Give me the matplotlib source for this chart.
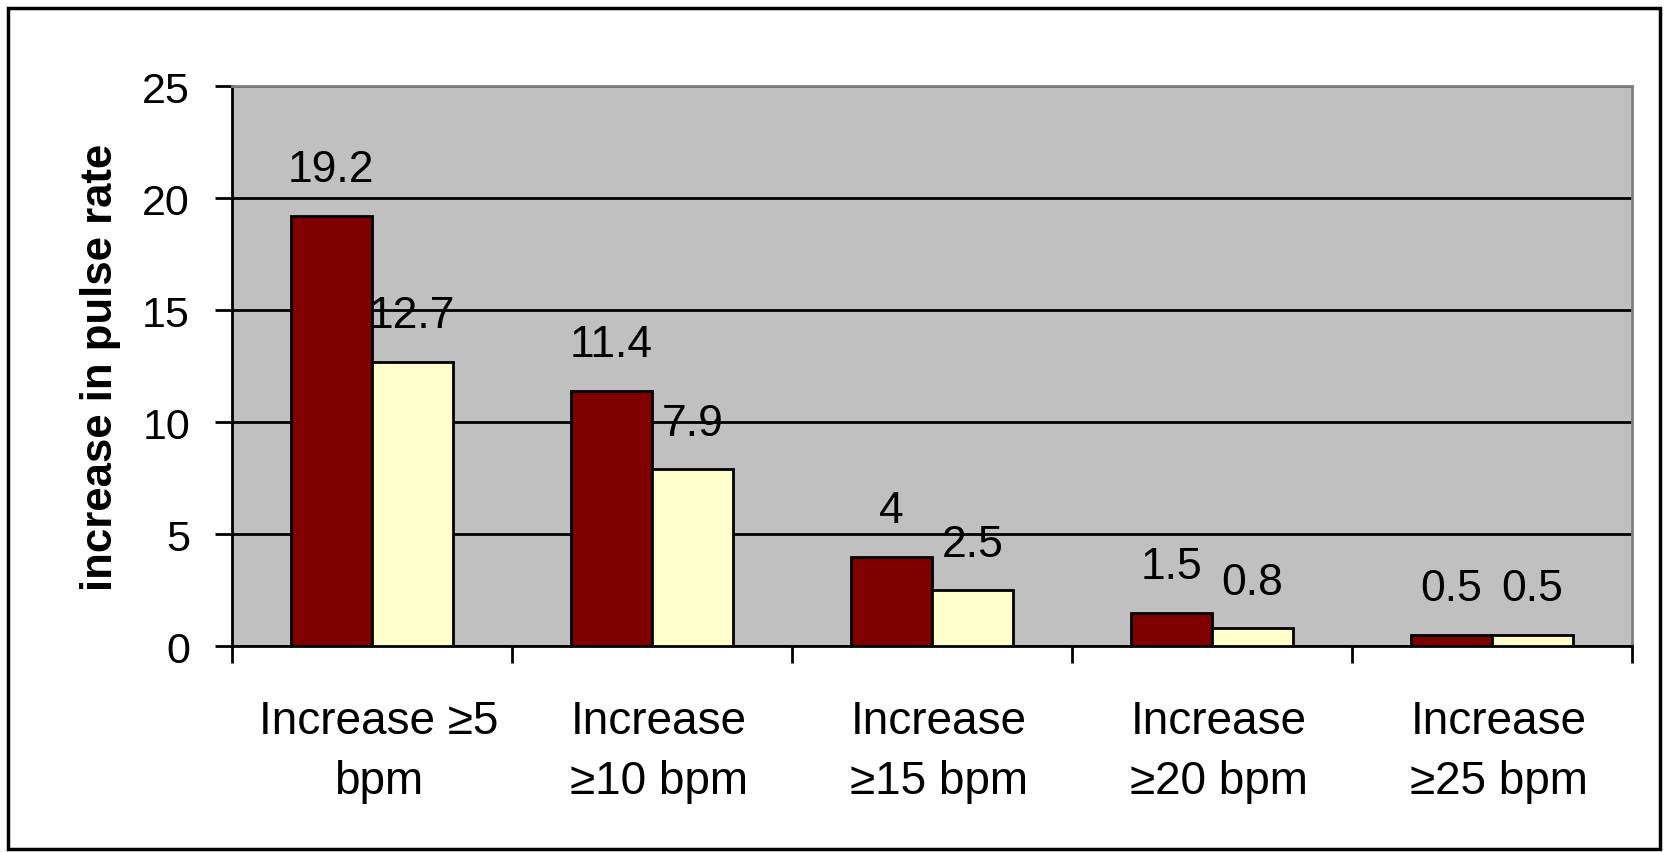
import matplotlib
matplotlib.use("Agg")
import matplotlib.pyplot as plt
import matplotlib.transforms as mtransforms
from matplotlib.patches import Rectangle
import numpy as np

plt.rcParams['font.family'] = ['Liberation Sans', 'DejaVu Sans']

# data
categories = ["Increase \u22655\nbpm", "Increase\n\u226510 bpm", "Increase\n\u226515 bpm",
              "Increase\n\u226520 bpm", "Increase\n\u226525 bpm"]
series_a = [19.2, 11.4, 4, 1.5, 0.5]
series_b = [12.7, 7.9, 2.5, 0.8, 0.5]
labels_a = ["19.2", "11.4", "4", "1.5", "0.5"]
labels_b = ["12.7", "7.9", "2.5", "0.8", "0.5"]
y_ticks = [0, 5, 10, 15, 20, 25]

fig = plt.figure(figsize=(16.67, 8.53), dpi=100)
ax = fig.add_axes([0.139, 0.241, 0.840, 0.657])
ax.set_facecolor('#C0C0C0')

x = np.arange(len(categories))
w = 0.29
ba = ax.bar(x - w / 2, series_a, w, color='#800000', edgecolor='black', linewidth=2, zorder=3)
bb = ax.bar(x + w / 2, series_b, w, color='#FFFFCC', edgecolor='black', linewidth=2, zorder=3)

for bars, labs in [(ba, labels_a), (bb, labels_b)]:
    for rect, lab in zip(bars, labs):
        ax.annotate(lab, (rect.get_x() + rect.get_width() / 2, rect.get_height()),
                    xytext=(0, 25), textcoords='offset points', ha='center',
                    va='baseline', fontsize=32)

ax.set_xlim(-0.5, len(categories) - 0.5)
ax.set_ylim(0, 25)
ax.set_yticks(y_ticks)
ax.tick_params(axis='y', labelsize=31, length=12, width=2, pad=18, direction='out')
ax.yaxis.grid(True, color='black', linewidth=2, zorder=1)
ax.set_axisbelow(True)

ax.set_xticks(x)
ax.set_xticklabels(categories, fontsize=33, linespacing=1.45)
ax.tick_params(axis='x', length=0, pad=38)
ax.set_xticks(np.arange(-0.5, len(categories)), minor=True)
ax.tick_params(axis='x', which='minor', length=12, width=2, direction='out')

# labels sit a little right of centre in the original
shift = mtransforms.ScaledTranslation(5 / 72, 0, fig.dpi_scale_trans)
for lbl in ax.get_xticklabels():
    lbl.set_transform(lbl.get_transform() + shift)

ax.set_ylabel('increase in pulse rate', fontsize=31.5, fontweight='bold', labelpad=15)

for s in ['left', 'bottom']:
    ax.spines[s].set_color('black')
    ax.spines[s].set_linewidth(2)
for s in ['top', 'right']:
    ax.spines[s].set_color('#808080')
    ax.spines[s].set_linewidth(2)

fig.add_artist(Rectangle((0.005, 0.004), 0.991, 0.986, transform=fig.transFigure,
                         fill=False, edgecolor='black', linewidth=2.5))

fig.savefig('out.png', dpi=100)
